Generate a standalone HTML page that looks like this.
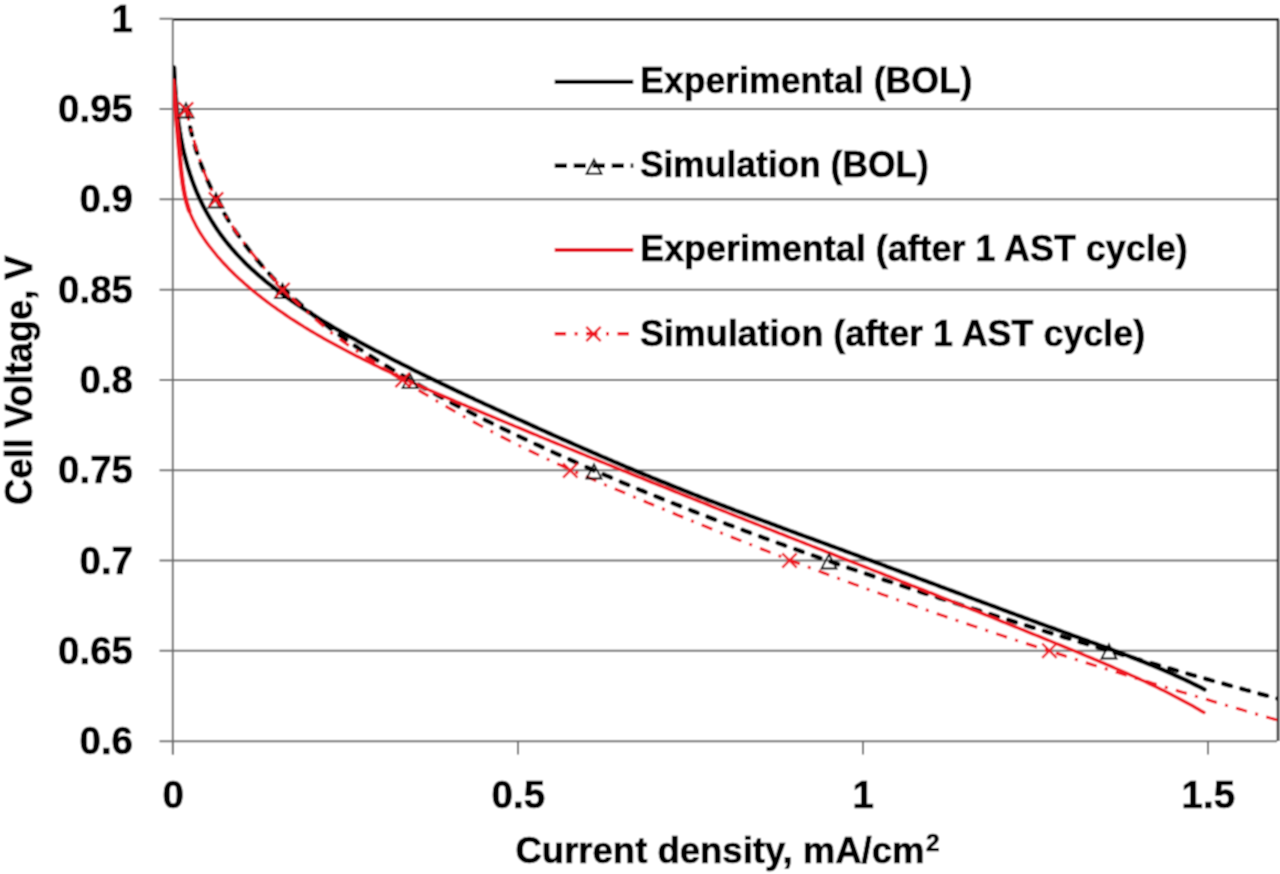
<!DOCTYPE html>
<html><head><meta charset="utf-8"><style>
html,body{margin:0;padding:0;background:#fff;width:1280px;height:874px;overflow:hidden}
svg{display:block}
.t{font-family:"Liberation Sans",sans-serif;font-weight:bold;font-size:37px;fill:#000;stroke:#000;stroke-width:0.7px}
.tl{font-size:38.5px}
</style></head><body>
<svg width="1280" height="874" viewBox="0 0 1280 874">
<defs><filter id="cv" x="0" y="0" width="1280" height="874" filterUnits="userSpaceOnUse"><feConvolveMatrix order="3" kernelMatrix="1 2 1 2 4 2 1 2 1" divisor="16" edgeMode="duplicate" preserveAlpha="true"/></filter><clipPath id="pa"><rect x="173" y="18" width="1104" height="724"/></clipPath></defs>
<g filter="url(#cv)">
<rect width="1280" height="874" fill="#fff"/>
<line x1="159.5" y1="109.05" x2="1277" y2="109.05" stroke="#6e6e6e" stroke-width="2"/>
<line x1="159.5" y1="199.35" x2="1277" y2="199.35" stroke="#6e6e6e" stroke-width="2"/>
<line x1="159.5" y1="289.65" x2="1277" y2="289.65" stroke="#6e6e6e" stroke-width="2"/>
<line x1="159.5" y1="379.95" x2="1277" y2="379.95" stroke="#6e6e6e" stroke-width="2"/>
<line x1="159.5" y1="470.25" x2="1277" y2="470.25" stroke="#6e6e6e" stroke-width="2"/>
<line x1="159.5" y1="560.55" x2="1277" y2="560.55" stroke="#6e6e6e" stroke-width="2"/>
<line x1="159.5" y1="650.85" x2="1277" y2="650.85" stroke="#6e6e6e" stroke-width="2"/>

<line x1="159.5" y1="18.75" x2="173" y2="18.75" stroke="#6e6e6e" stroke-width="2"/>
<line x1="173" y1="19.3" x2="1279" y2="19.3" stroke="#222" stroke-width="2.8"/>
<line x1="1278" y1="19.3" x2="1278" y2="741" stroke="#2a2a2a" stroke-width="2.6"/>
<line x1="159.5" y1="741.2" x2="1277" y2="741.2" stroke="#6e6e6e" stroke-width="2"/>
<line x1="172.8" y1="18.75" x2="172.8" y2="754.5" stroke="#6e6e6e" stroke-width="2"/>
<line x1="173.00" y1="741" x2="173.00" y2="754.5" stroke="#6e6e6e" stroke-width="2"/>
<line x1="518.00" y1="741" x2="518.00" y2="754.5" stroke="#6e6e6e" stroke-width="2"/>
<line x1="863.00" y1="741" x2="863.00" y2="754.5" stroke="#6e6e6e" stroke-width="2"/>
<line x1="1208.00" y1="741" x2="1208.00" y2="754.5" stroke="#6e6e6e" stroke-width="2"/>

<g clip-path="url(#pa)" fill="none">
<path d="M174.1,67.6 L174.2,70.8 L174.4,73.9 L174.5,77.0 L174.7,80.1 L174.8,83.3 L175.0,86.4 L175.2,89.6 L175.5,92.8 L175.7,95.9 L176.0,99.1 L176.2,102.3 L176.5,105.4 L176.8,108.6 L177.2,111.8 L177.5,115.0 L177.9,118.1 L178.3,121.3 L178.8,124.5 L179.2,127.7 L179.7,130.8 L180.3,134.0 L180.8,137.1 L181.4,140.3 L182.0,143.4 L182.6,146.5 L183.3,149.7 L184.0,152.8 L184.8,155.9 L185.6,159.0 L186.4,162.1 L187.2,165.1 L188.1,168.2 L189.1,171.2 L190.0,174.2 L191.1,177.3 L192.1,180.3 L193.2,183.2 L194.3,186.2 L195.5,189.1 L196.7,192.1 L198.0,195.0 L199.3,197.9 L200.6,200.7 L202.0,203.6 L203.4,206.4 L204.9,209.2 L206.4,212.0 L207.9,214.7 L209.5,217.4 L211.1,220.1 L212.8,222.8 L214.5,225.5 L216.2,228.1 L218.0,230.7 L219.8,233.3 L221.7,235.8 L223.6,238.3 L225.5,240.8 L227.5,243.3 L229.5,245.7 L231.5,248.2 L233.6,250.5 L235.7,252.9 L237.8,255.2 L240.0,257.5 L242.2,259.8 L244.4,262.1 L246.6,264.3 L248.9,266.5 L251.2,268.7 L253.6,270.8 L255.9,272.9 L258.3,275.0 L260.7,277.1 L263.1,279.1 L265.6,281.2 L268.1,283.2 L270.5,285.1 L273.1,287.1 L275.6,289.0 L278.1,291.0 L280.7,292.8 L283.3,294.7 L285.8,296.6 L288.4,298.4 L291.0,300.3 L293.7,302.1 L296.3,303.9 L298.9,305.6 L301.6,307.4 L304.2,309.2 L306.9,310.9 L309.6,312.6 L312.3,314.3 L314.9,316.0 L317.6,317.7 L320.3,319.4 L323.1,321.1 L325.8,322.7 L328.5,324.3 L331.3,326.0 L334.0,327.6 L336.7,329.2 L339.5,330.8 L342.3,332.4 L345.0,333.9 L347.8,335.5 L350.6,337.1 L353.4,338.6 L356.2,340.1 L358.9,341.7 L361.7,343.2 L364.5,344.7 L367.4,346.2 L370.2,347.7 L373.0,349.2 L375.8,350.7 L378.6,352.1 L381.4,353.6 L384.3,355.1 L387.1,356.5 L389.9,358.0 L392.7,359.4 L395.6,360.9 L398.4,362.3 L401.2,363.8 L404.1,365.2 L406.9,366.6 L409.8,368.0 L412.6,369.5 L415.4,370.9 L418.3,372.3 L421.1,373.7 L424.0,375.1 L426.8,376.5 L429.7,377.9 L432.5,379.2 L435.4,380.6 L438.3,382.0 L441.1,383.4 L444.0,384.8 L446.8,386.1 L449.7,387.5 L452.6,388.9 L455.4,390.2 L458.3,391.6 L461.2,392.9 L464.0,394.3 L466.9,395.6 L469.8,397.0 L472.7,398.3 L475.5,399.7 L478.4,401.0 L481.3,402.3 L484.2,403.7 L487.0,405.0 L489.9,406.3 L492.8,407.6 L495.7,409.0 L498.6,410.3 L501.5,411.6 L504.3,412.9 L507.2,414.3 L510.1,415.6 L513.0,416.9 L515.9,418.2 L518.8,419.5 L521.7,420.8 L524.6,422.1 L527.5,423.4 L530.4,424.7 L533.3,426.1 L536.1,427.4 L539.0,428.7 L541.9,430.0 L544.8,431.3 L547.7,432.6 L550.6,433.9 L553.5,435.2 L556.4,436.5 L559.3,437.8 L562.3,439.1 L565.2,440.3 L568.1,441.6 L571.0,442.9 L573.9,444.2 L576.8,445.5 L579.7,446.8 L582.6,448.1 L585.5,449.3 L588.4,450.6 L591.4,451.9 L594.3,453.2 L597.2,454.4 L600.1,455.7 L603.0,457.0 L605.9,458.2 L608.9,459.5 L611.8,460.7 L614.7,462.0 L617.6,463.2 L620.6,464.5 L623.5,465.7 L626.4,467.0 L629.3,468.2 L632.3,469.4 L635.2,470.7 L638.1,471.9 L641.1,473.1 L644.0,474.3 L647.0,475.5 L649.9,476.7 L652.8,478.0 L655.8,479.2 L658.7,480.4 L661.7,481.6 L664.6,482.7 L667.6,483.9 L670.5,485.1 L673.5,486.3 L676.4,487.5 L679.4,488.7 L682.3,489.8 L685.3,491.0 L688.2,492.2 L691.2,493.3 L694.1,494.5 L697.1,495.6 L700.1,496.8 L703.0,498.0 L706.0,499.1 L708.9,500.3 L711.9,501.4 L714.9,502.5 L717.8,503.7 L720.8,504.8 L723.8,505.9 L726.7,507.1 L729.7,508.2 L732.7,509.3 L735.6,510.5 L738.6,511.6 L741.6,512.7 L744.6,513.8 L747.5,514.9 L750.5,516.1 L753.5,517.2 L756.5,518.3 L759.4,519.4 L762.4,520.5 L765.4,521.6 L768.4,522.7 L771.3,523.8 L774.3,524.9 L777.3,526.1 L780.3,527.2 L783.2,528.3 L786.2,529.4 L789.2,530.5 L792.2,531.6 L795.2,532.7 L798.1,533.8 L801.1,534.9 L804.1,536.0 L807.1,537.1 L810.1,538.2 L813.0,539.2 L816.0,540.3 L819.0,541.4 L822.0,542.5 L825.0,543.6 L827.9,544.7 L830.9,545.8 L833.9,546.9 L836.9,548.0 L839.9,549.1 L842.9,550.2 L845.8,551.3 L848.8,552.4 L851.8,553.5 L854.8,554.6 L857.8,555.7 L860.7,556.8 L863.7,557.9 L866.7,559.0 L869.7,560.1 L872.6,561.2 L875.6,562.3 L878.6,563.4 L881.6,564.5 L884.6,565.6 L887.5,566.8 L890.5,567.9 L893.5,569.0 L896.5,570.1 L899.4,571.2 L902.4,572.3 L905.4,573.4 L908.4,574.5 L911.4,575.6 L914.3,576.7 L917.3,577.9 L920.3,579.0 L923.3,580.1 L926.2,581.2 L929.2,582.3 L932.2,583.4 L935.2,584.5 L938.1,585.6 L941.1,586.8 L944.1,587.9 L947.1,589.0 L950.0,590.1 L953.0,591.2 L956.0,592.3 L959.0,593.4 L962.0,594.5 L964.9,595.6 L967.9,596.8 L970.9,597.9 L973.9,599.0 L976.8,600.1 L979.8,601.2 L982.8,602.3 L985.8,603.4 L988.8,604.5 L991.7,605.6 L994.7,606.7 L997.7,607.8 L1000.7,609.0 L1003.6,610.1 L1006.6,611.2 L1009.6,612.3 L1012.6,613.4 L1015.6,614.5 L1018.5,615.6 L1021.5,616.7 L1024.5,617.8 L1027.5,618.9 L1030.5,620.0 L1033.5,621.1 L1036.4,622.2 L1039.4,623.3 L1042.4,624.4 L1045.4,625.5 L1048.4,626.6 L1051.4,627.6 L1054.3,628.7 L1057.3,629.8 L1060.3,630.9 L1063.3,632.0 L1066.3,633.1 L1069.3,634.2 L1072.3,635.3 L1075.2,636.3 L1078.2,637.4 L1081.2,638.5 L1084.2,639.6 L1087.2,640.7 L1090.2,641.8 L1093.2,642.8 L1096.2,643.9 L1099.1,645.0 L1102.1,646.1 L1105.1,647.2 L1108.1,648.3 L1111.1,649.4 L1114.0,650.5 L1117.0,651.6 L1120.0,652.7 L1123.0,653.9 L1125.9,655.0 L1128.9,656.1 L1131.9,657.3 L1134.8,658.4 L1137.8,659.6 L1140.7,660.8 L1143.7,661.9 L1146.6,663.1 L1149.6,664.3 L1152.5,665.5 L1155.4,666.7 L1158.4,668.0 L1161.3,669.2 L1164.2,670.4 L1167.1,671.7 L1170.0,673.0 L1172.9,674.3 L1175.8,675.6 L1178.7,676.9 L1181.6,678.2 L1184.5,679.5 L1187.4,680.9 L1190.3,682.3 L1193.1,683.7 L1196.0,685.1 L1198.8,686.5 L1201.7,687.9 L1204.5,689.4" stroke="#000" stroke-width="4.5" stroke-linejoin="round" stroke-linecap="round"/>
<path d="M186.6,109.0 L187.1,112.3 L187.7,115.5 L188.3,118.8 L189.0,122.0 L189.6,125.2 L190.4,128.4 L191.1,131.6 L191.9,134.8 L192.7,138.0 L193.6,141.1 L194.5,144.3 L195.4,147.4 L196.3,150.5 L197.3,153.6 L198.4,156.7 L199.4,159.8 L200.5,162.8 L201.6,165.9 L202.8,168.9 L204.0,171.9 L205.2,174.9 L206.5,177.9 L207.7,180.9 L209.1,183.9 L210.4,186.8 L211.8,189.7 L213.2,192.6 L214.6,195.5 L216.1,198.4 L217.6,201.3 L219.1,204.1 L220.6,207.0 L222.2,209.8 L223.8,212.6 L225.5,215.4 L227.1,218.1 L228.8,220.9 L230.5,223.6 L232.3,226.3 L234.0,229.0 L235.8,231.7 L237.7,234.4 L239.5,237.0 L241.4,239.6 L243.3,242.3 L245.2,244.9 L247.1,247.4 L249.1,250.0 L251.1,252.5 L253.1,255.1 L255.1,257.6 L257.2,260.1 L259.3,262.5 L261.4,265.0 L263.5,267.4 L265.6,269.8 L267.8,272.2 L270.0,274.6 L272.2,277.0 L274.4,279.3 L276.6,281.6 L278.9,283.9 L281.2,286.2 L283.5,288.5 L285.8,290.7 L288.1,293.0 L290.5,295.2 L292.9,297.4 L295.2,299.6 L297.7,301.7 L300.1,303.9 L302.5,306.0 L305.0,308.1 L307.4,310.2 L309.9,312.2 L312.4,314.3 L314.9,316.3 L317.4,318.4 L320.0,320.4 L322.5,322.4 L325.1,324.3 L327.7,326.3 L330.3,328.3 L332.9,330.2 L335.5,332.1 L338.1,334.0 L340.7,335.9 L343.4,337.8 L346.0,339.7 L348.7,341.5 L351.4,343.3 L354.1,345.2 L356.8,347.0 L359.5,348.8 L362.2,350.6 L364.9,352.4 L367.6,354.1 L370.3,355.9 L373.1,357.6 L375.8,359.4 L378.6,361.1 L381.3,362.8 L384.1,364.5 L386.9,366.2 L389.7,367.9 L392.4,369.6 L395.2,371.3 L398.0,372.9 L400.8,374.6 L403.6,376.2 L406.4,377.8 L409.2,379.5 L412.0,381.1 L414.9,382.7 L417.7,384.3 L420.5,385.9 L423.3,387.5 L426.2,389.0 L429.0,390.6 L431.9,392.2 L434.7,393.7 L437.5,395.3 L440.4,396.8 L443.3,398.4 L446.1,399.9 L449.0,401.4 L451.8,402.9 L454.7,404.4 L457.6,405.9 L460.5,407.4 L463.3,408.9 L466.2,410.4 L469.1,411.8 L472.0,413.3 L474.9,414.8 L477.8,416.2 L480.7,417.7 L483.6,419.1 L486.5,420.6 L489.4,422.0 L492.3,423.4 L495.2,424.9 L498.1,426.3 L501.0,427.7 L503.9,429.1 L506.9,430.5 L509.8,431.9 L512.7,433.3 L515.6,434.7 L518.5,436.1 L521.5,437.5 L524.4,438.9 L527.3,440.2 L530.3,441.6 L533.2,443.0 L536.1,444.4 L539.1,445.7 L542.0,447.1 L544.9,448.4 L547.9,449.8 L550.8,451.1 L553.8,452.5 L556.7,453.8 L559.7,455.1 L562.6,456.5 L565.6,457.8 L568.5,459.1 L571.5,460.4 L574.5,461.7 L577.4,463.1 L580.4,464.4 L583.3,465.7 L586.3,467.0 L589.3,468.3 L592.2,469.6 L595.2,470.9 L598.2,472.1 L601.1,473.4 L604.1,474.7 L607.1,476.0 L610.1,477.2 L613.1,478.5 L616.0,479.8 L619.0,481.0 L622.0,482.3 L625.0,483.5 L628.0,484.8 L631.0,486.0 L633.9,487.3 L636.9,488.5 L639.9,489.8 L642.9,491.0 L645.9,492.2 L648.9,493.5 L651.9,494.7 L654.9,495.9 L657.9,497.1 L660.9,498.3 L663.9,499.5 L666.9,500.7 L669.9,502.0 L672.9,503.2 L675.9,504.4 L678.9,505.5 L682.0,506.7 L685.0,507.9 L688.0,509.1 L691.0,510.3 L694.0,511.5 L697.0,512.7 L700.0,513.8 L703.1,515.0 L706.1,516.2 L709.1,517.3 L712.1,518.5 L715.2,519.6 L718.2,520.8 L721.2,522.0 L724.2,523.1 L727.3,524.3 L730.3,525.4 L733.3,526.5 L736.4,527.7 L739.4,528.8 L742.4,529.9 L745.5,531.1 L748.5,532.2 L751.5,533.3 L754.6,534.5 L757.6,535.6 L760.7,536.7 L763.7,537.8 L766.7,538.9 L769.8,540.0 L772.8,541.1 L775.9,542.2 L778.9,543.3 L782.0,544.4 L785.0,545.5 L788.1,546.6 L791.1,547.7 L794.2,548.8 L797.2,549.9 L800.3,551.0 L803.3,552.1 L806.4,553.2 L809.4,554.2 L812.5,555.3 L815.6,556.4 L818.6,557.5 L821.7,558.5 L824.7,559.6 L827.8,560.7 L830.9,561.7 L833.9,562.8 L837.0,563.8 L840.1,564.9 L843.1,566.0 L846.2,567.0 L849.2,568.1 L852.3,569.1 L855.4,570.1 L858.5,571.2 L861.5,572.2 L864.6,573.3 L867.7,574.3 L870.7,575.3 L873.8,576.4 L876.9,577.4 L880.0,578.4 L883.0,579.5 L886.1,580.5 L889.2,581.5 L892.3,582.5 L895.3,583.6 L898.4,584.6 L901.5,585.6 L904.6,586.6 L907.6,587.6 L910.7,588.6 L913.8,589.7 L916.9,590.7 L920.0,591.7 L923.0,592.7 L926.1,593.7 L929.2,594.7 L932.3,595.7 L935.4,596.7 L938.5,597.7 L941.5,598.7 L944.6,599.7 L947.7,600.7 L950.8,601.7 L953.9,602.6 L957.0,603.6 L960.1,604.6 L963.1,605.6 L966.2,606.6 L969.3,607.6 L972.4,608.6 L975.5,609.5 L978.6,610.5 L981.7,611.5 L984.8,612.5 L987.8,613.4 L990.9,614.4 L994.0,615.4 L997.1,616.4 L1000.2,617.3 L1003.3,618.3 L1006.4,619.3 L1009.5,620.2 L1012.6,621.2 L1015.7,622.2 L1018.8,623.1 L1021.9,624.1 L1024.9,625.1 L1028.0,626.0 L1031.1,627.0 L1034.2,627.9 L1037.3,628.9 L1040.4,629.9 L1043.5,630.8 L1046.6,631.8 L1049.7,632.7 L1052.8,633.7 L1055.9,634.6 L1059.0,635.6 L1062.1,636.5 L1065.2,637.5 L1068.3,638.4 L1071.4,639.3 L1074.5,640.3 L1077.6,641.2 L1080.7,642.2 L1083.8,643.1 L1086.9,644.0 L1090.0,645.0 L1093.1,645.9 L1096.2,646.9 L1099.3,647.8 L1102.4,648.7 L1105.5,649.6 L1108.6,650.6 L1111.7,651.5 L1114.8,652.4 L1117.9,653.3 L1121.0,654.3 L1124.1,655.2 L1127.2,656.1 L1130.3,657.0 L1133.4,657.9 L1136.5,658.9 L1139.6,659.8 L1142.7,660.7 L1145.8,661.6 L1148.9,662.5 L1152.0,663.4 L1155.1,664.3 L1158.2,665.2 L1161.4,666.1 L1164.5,667.0 L1167.6,667.9 L1170.7,668.8 L1173.8,669.7 L1176.9,670.6 L1180.0,671.5 L1183.1,672.4 L1186.2,673.3 L1189.4,674.2 L1192.5,675.1 L1195.6,676.0 L1198.7,676.8 L1201.8,677.7 L1204.9,678.6 L1208.1,679.5 L1211.2,680.4 L1214.3,681.2 L1217.4,682.1 L1220.5,683.0 L1223.7,683.8 L1226.8,684.7 L1229.9,685.6 L1233.0,686.4 L1236.2,687.3 L1239.3,688.2 L1242.4,689.0 L1245.5,689.9 L1248.7,690.7 L1251.8,691.6 L1254.9,692.5 L1258.0,693.3 L1261.2,694.2 L1264.3,695.0 L1267.4,695.8 L1270.6,696.7 L1273.7,697.5 L1276.8,698.4 L1280.0,699.2" stroke="#000" stroke-width="4.6" stroke-dasharray="8 10.7" stroke-linecap="round"/>
<path d="M173.3,80.9 L173.5,84.0 L173.8,87.2 L174.1,90.4 L174.4,93.6 L174.7,96.7 L174.9,99.9 L175.2,103.1 L175.5,106.3 L175.7,109.5 L176.0,112.6 L176.3,115.8 L176.5,119.0 L176.8,122.2 L177.0,125.4 L177.3,128.6 L177.6,131.8 L177.9,135.0 L178.1,138.2 L178.4,141.4 L178.7,144.6 L179.0,147.8 L179.3,151.0 L179.6,154.2 L179.9,157.4 L180.2,160.6 L180.5,163.8 L180.8,167.1 L181.1,170.3 L181.5,173.5 L181.9,176.7 L182.3,179.9 L182.7,183.1 L183.2,186.3 L183.7,189.4 L184.3,192.6 L184.9,195.7 L185.6,198.8 L186.4,201.9 L187.3,204.9 L188.2,207.9 L189.2,210.8 L190.4,213.8 L191.6,216.6 L192.9,219.5 L194.3,222.3 L195.7,225.1 L197.2,227.8 L198.8,230.6 L200.4,233.3 L202.1,235.9 L203.9,238.6 L205.7,241.2 L207.5,243.8 L209.4,246.3 L211.4,248.8 L213.4,251.3 L215.4,253.8 L217.4,256.3 L219.6,258.7 L221.7,261.1 L223.9,263.5 L226.1,265.8 L228.3,268.2 L230.6,270.5 L232.9,272.7 L235.2,275.0 L237.6,277.2 L240.0,279.4 L242.4,281.6 L244.8,283.8 L247.3,285.9 L249.7,288.0 L252.2,290.1 L254.7,292.1 L257.3,294.2 L259.8,296.2 L262.3,298.2 L264.9,300.1 L267.5,302.1 L270.0,304.0 L272.6,305.9 L275.2,307.7 L277.8,309.6 L280.5,311.4 L283.1,313.2 L285.7,315.0 L288.4,316.8 L291.0,318.6 L293.7,320.3 L296.4,322.0 L299.1,323.7 L301.8,325.4 L304.5,327.1 L307.2,328.7 L309.9,330.4 L312.7,332.0 L315.4,333.6 L318.1,335.2 L320.9,336.8 L323.7,338.4 L326.4,339.9 L329.2,341.5 L332.0,343.0 L334.8,344.5 L337.6,346.1 L340.4,347.6 L343.2,349.1 L346.0,350.5 L348.8,352.0 L351.7,353.5 L354.5,354.9 L357.3,356.4 L360.2,357.8 L363.0,359.3 L365.9,360.7 L368.7,362.1 L371.6,363.5 L374.5,364.9 L377.4,366.3 L380.2,367.7 L383.1,369.1 L386.0,370.4 L388.9,371.8 L391.8,373.2 L394.7,374.5 L397.6,375.8 L400.5,377.2 L403.4,378.5 L406.4,379.8 L409.3,381.2 L412.2,382.5 L415.1,383.8 L418.1,385.1 L421.0,386.4 L423.9,387.7 L426.9,389.0 L429.8,390.3 L432.8,391.5 L435.7,392.8 L438.6,394.1 L441.6,395.4 L444.5,396.6 L447.5,397.9 L450.4,399.1 L453.4,400.4 L456.4,401.7 L459.3,402.9 L462.3,404.2 L465.2,405.4 L468.2,406.7 L471.1,407.9 L474.1,409.1 L477.1,410.4 L480.0,411.6 L483.0,412.9 L485.9,414.1 L488.9,415.3 L491.9,416.6 L494.8,417.8 L497.8,419.1 L500.7,420.3 L503.7,421.5 L506.7,422.8 L509.6,424.0 L512.6,425.2 L515.5,426.5 L518.5,427.7 L521.5,428.9 L524.4,430.1 L527.4,431.4 L530.3,432.6 L533.3,433.8 L536.3,435.0 L539.2,436.3 L542.2,437.5 L545.1,438.7 L548.1,439.9 L551.1,441.2 L554.0,442.4 L557.0,443.6 L559.9,444.8 L562.9,446.0 L565.9,447.3 L568.8,448.5 L571.8,449.7 L574.7,450.9 L577.7,452.1 L580.7,453.3 L583.6,454.5 L586.6,455.8 L589.6,457.0 L592.5,458.2 L595.5,459.4 L598.4,460.6 L601.4,461.8 L604.4,463.0 L607.3,464.2 L610.3,465.4 L613.2,466.6 L616.2,467.8 L619.2,469.0 L622.1,470.3 L625.1,471.5 L628.1,472.7 L631.0,473.9 L634.0,475.1 L637.0,476.3 L639.9,477.5 L642.9,478.7 L645.8,479.9 L648.8,481.1 L651.8,482.3 L654.7,483.5 L657.7,484.7 L660.7,485.8 L663.6,487.0 L666.6,488.2 L669.6,489.4 L672.5,490.6 L675.5,491.8 L678.5,493.0 L681.4,494.2 L684.4,495.4 L687.4,496.6 L690.3,497.8 L693.3,499.0 L696.3,500.2 L699.2,501.3 L702.2,502.5 L705.2,503.7 L708.1,504.9 L711.1,506.1 L714.1,507.3 L717.1,508.5 L720.0,509.7 L723.0,510.8 L726.0,512.0 L728.9,513.2 L731.9,514.4 L734.9,515.6 L737.8,516.8 L740.8,517.9 L743.8,519.1 L746.8,520.3 L749.7,521.5 L752.7,522.7 L755.7,523.8 L758.7,525.0 L761.6,526.2 L764.6,527.4 L767.6,528.6 L770.6,529.7 L773.5,530.9 L776.5,532.1 L779.5,533.3 L782.5,534.4 L785.4,535.6 L788.4,536.8 L791.4,538.0 L794.4,539.2 L797.4,540.3 L800.3,541.5 L803.3,542.7 L806.3,543.9 L809.3,545.0 L812.2,546.2 L815.2,547.4 L818.2,548.6 L821.2,549.7 L824.2,550.9 L827.1,552.1 L830.1,553.2 L833.1,554.4 L836.1,555.6 L839.1,556.8 L842.0,557.9 L845.0,559.1 L848.0,560.3 L851.0,561.5 L854.0,562.6 L856.9,563.8 L859.9,565.0 L862.9,566.2 L865.9,567.3 L868.9,568.5 L871.8,569.7 L874.8,570.9 L877.8,572.0 L880.8,573.2 L883.7,574.4 L886.7,575.6 L889.7,576.7 L892.7,577.9 L895.7,579.1 L898.6,580.3 L901.6,581.5 L904.6,582.6 L907.6,583.8 L910.6,585.0 L913.5,586.2 L916.5,587.3 L919.5,588.5 L922.5,589.7 L925.5,590.9 L928.4,592.1 L931.4,593.2 L934.4,594.4 L937.4,595.6 L940.3,596.8 L943.3,598.0 L946.3,599.2 L949.3,600.3 L952.2,601.5 L955.2,602.7 L958.2,603.9 L961.2,605.1 L964.2,606.3 L967.1,607.5 L970.1,608.6 L973.1,609.8 L976.0,611.0 L979.0,612.2 L982.0,613.4 L985.0,614.6 L987.9,615.8 L990.9,617.0 L993.9,618.2 L996.9,619.4 L999.8,620.6 L1002.8,621.8 L1005.8,623.0 L1008.7,624.2 L1011.7,625.4 L1014.7,626.6 L1017.6,627.8 L1020.6,629.0 L1023.6,630.2 L1026.5,631.4 L1029.5,632.6 L1032.5,633.8 L1035.4,635.0 L1038.4,636.2 L1041.4,637.4 L1044.3,638.6 L1047.3,639.8 L1050.3,641.0 L1053.2,642.2 L1056.2,643.5 L1059.2,644.7 L1062.1,645.9 L1065.1,647.1 L1068.0,648.3 L1071.0,649.5 L1074.0,650.8 L1076.9,652.0 L1079.9,653.2 L1082.8,654.4 L1085.8,655.7 L1088.7,656.9 L1091.7,658.1 L1094.6,659.4 L1097.6,660.6 L1100.5,661.9 L1103.5,663.1 L1106.4,664.4 L1109.4,665.6 L1112.3,666.9 L1115.2,668.2 L1118.2,669.5 L1121.1,670.7 L1124.0,672.0 L1126.9,673.3 L1129.9,674.7 L1132.8,676.0 L1135.7,677.3 L1138.6,678.6 L1141.5,680.0 L1144.4,681.3 L1147.3,682.7 L1150.2,684.1 L1153.1,685.4 L1155.9,686.8 L1158.8,688.2 L1161.7,689.7 L1164.5,691.1 L1167.4,692.5 L1170.3,694.0 L1173.1,695.5 L1175.9,696.9 L1178.8,698.4 L1181.6,699.9 L1184.4,701.5 L1187.2,703.0 L1190.1,704.5 L1192.9,706.1 L1195.7,707.7 L1198.4,709.3 L1201.2,710.9 L1204.0,712.5" stroke="#ee1820" stroke-width="3.4" stroke-linejoin="round" stroke-linecap="round"/>
<path d="M173.3,80.9 L173.5,84.0 L173.8,87.2 L174.1,90.4 L174.4,93.6 L174.7,96.7 L174.9,99.9 L175.2,103.1 L175.5,106.3 L175.7,109.5 L176.0,112.6 L176.3,115.8 L176.5,119.0 L176.8,122.2 L177.0,125.4 L177.3,128.6 L177.6,131.8 L177.9,135.0 L178.1,138.2 L178.4,141.4 L178.7,144.6 L179.0,147.8 L179.3,151.0 L179.6,154.2 L179.9,157.4 L180.2,160.6 L180.5,163.8 L180.8,167.1 L181.1,170.3 L181.5,173.5 L181.9,176.7 L182.3,179.9 L182.7,183.1 L183.2,186.3 L183.7,189.4 L184.3,192.6 L184.9,195.7 L185.6,198.8 L186.4,201.9 L187.3,204.9 L188.2,207.9 L189.2,210.8" stroke="#ee1820" stroke-width="4.6" stroke-linejoin="round" stroke-linecap="round"/>
<path d="M186.1,109.5 L186.9,112.6 L187.6,115.8 L188.4,119.0 L189.2,122.1 L190.0,125.3 L190.8,128.5 L191.6,131.6 L192.5,134.8 L193.3,138.0 L194.2,141.1 L195.1,144.3 L196.0,147.4 L196.9,150.5 L197.9,153.6 L198.9,156.8 L199.9,159.9 L201.0,163.0 L202.0,166.0 L203.1,169.1 L204.3,172.2 L205.4,175.2 L206.6,178.2 L207.9,181.2 L209.2,184.2 L210.5,187.2 L211.8,190.2 L213.2,193.1 L214.7,196.0 L216.2,198.9 L217.7,201.8 L219.2,204.6 L220.8,207.5 L222.4,210.3 L224.1,213.1 L225.7,215.9 L227.5,218.7 L229.2,221.4 L231.0,224.2 L232.8,226.9 L234.6,229.6 L236.5,232.3 L238.3,235.0 L240.2,237.6 L242.2,240.3 L244.1,242.9 L246.1,245.5 L248.1,248.1 L250.1,250.7 L252.1,253.3 L254.2,255.8 L256.2,258.4 L258.3,260.9 L260.4,263.4 L262.5,265.9 L264.6,268.4 L266.7,270.9 L268.9,273.3 L271.0,275.8 L273.2,278.2 L275.4,280.6 L277.6,283.0 L279.8,285.4 L282.0,287.7 L284.3,290.1 L286.5,292.4 L288.8,294.7 L291.1,297.0 L293.5,299.3 L295.8,301.5 L298.2,303.8 L300.6,306.0 L303.0,308.2 L305.4,310.4 L307.8,312.6 L310.2,314.8 L312.7,316.9 L315.1,319.1 L317.6,321.2 L320.1,323.3 L322.6,325.4 L325.1,327.5 L327.6,329.6 L330.1,331.7 L332.7,333.7 L335.3,335.7 L337.9,337.7 L340.5,339.6 L343.1,341.5 L345.7,343.4 L348.4,345.3 L351.1,347.2 L353.7,349.0 L356.4,350.8 L359.1,352.6 L361.8,354.4 L364.6,356.2 L367.3,358.0 L370.0,359.7 L372.8,361.5 L375.5,363.3 L378.2,365.0 L381.0,366.8 L383.7,368.5 L386.5,370.3 L389.3,372.0 L392.0,373.8 L394.8,375.5 L397.5,377.2 L400.3,379.0 L403.1,380.7 L405.9,382.4 L408.6,384.1 L411.4,385.8 L414.2,387.5 L417.0,389.2 L419.8,390.9 L422.6,392.6 L425.4,394.3 L428.2,395.9 L431.0,397.6 L433.8,399.3 L436.6,400.9 L439.5,402.6 L442.3,404.2 L445.1,405.8 L447.9,407.5 L450.8,409.1 L453.6,410.7 L456.4,412.3 L459.3,413.9 L462.1,415.5 L465.0,417.1 L467.8,418.7 L470.7,420.3 L473.6,421.9 L476.4,423.4 L479.3,425.0 L482.2,426.5 L485.1,428.1 L487.9,429.6 L490.8,431.1 L493.7,432.7 L496.6,434.2 L499.5,435.7 L502.4,437.2 L505.3,438.7 L508.2,440.1 L511.1,441.6 L514.0,443.1 L517.0,444.5 L519.9,446.0 L522.8,447.4 L525.7,448.8 L528.7,450.3 L531.6,451.7 L534.6,453.1 L537.5,454.5 L540.5,455.9 L543.4,457.3 L546.4,458.6 L549.3,460.0 L552.3,461.4 L555.2,462.7 L558.2,464.1 L561.2,465.4 L564.1,466.8 L567.1,468.1 L570.1,469.4 L573.1,470.8 L576.0,472.1 L579.0,473.4 L582.0,474.7 L585.0,476.0 L588.0,477.3 L591.0,478.6 L594.0,479.9 L597.0,481.2 L600.0,482.5 L602.9,483.8 L605.9,485.1 L608.9,486.3 L611.9,487.6 L615.0,488.9 L618.0,490.2 L621.0,491.4 L624.0,492.7 L627.0,494.0 L630.0,495.2 L633.0,496.5 L636.0,497.7 L639.0,499.0 L642.0,500.3 L645.0,501.5 L648.0,502.8 L651.0,504.0 L654.1,505.3 L657.1,506.5 L660.1,507.8 L663.1,509.0 L666.1,510.3 L669.1,511.5 L672.1,512.8 L675.2,514.0 L678.2,515.3 L681.2,516.5 L684.2,517.8 L687.2,519.0 L690.2,520.2 L693.3,521.5 L696.3,522.7 L699.3,524.0 L702.3,525.2 L705.4,526.4 L708.4,527.7 L711.4,528.9 L714.4,530.1 L717.4,531.4 L720.5,532.6 L723.5,533.8 L726.5,535.0 L729.6,536.2 L732.6,537.5 L735.6,538.7 L738.6,539.9 L741.7,541.1 L744.7,542.3 L747.7,543.5 L750.8,544.7 L753.8,545.9 L756.8,547.1 L759.9,548.3 L762.9,549.5 L765.9,550.7 L769.0,551.9 L772.0,553.1 L775.1,554.3 L778.1,555.5 L781.1,556.7 L784.2,557.9 L787.2,559.0 L790.3,560.2 L793.3,561.4 L796.4,562.6 L799.4,563.7 L802.5,564.9 L805.5,566.1 L808.6,567.2 L811.6,568.4 L814.7,569.5 L817.7,570.7 L820.8,571.8 L823.8,573.0 L826.9,574.1 L829.9,575.3 L833.0,576.4 L836.0,577.5 L839.1,578.7 L842.2,579.8 L845.2,580.9 L848.3,582.1 L851.3,583.2 L854.4,584.3 L857.5,585.4 L860.5,586.6 L863.6,587.7 L866.7,588.8 L869.7,589.9 L872.8,591.0 L875.9,592.1 L878.9,593.2 L882.0,594.3 L885.1,595.4 L888.2,596.5 L891.2,597.6 L894.3,598.7 L897.4,599.8 L900.5,600.9 L903.5,602.0 L906.6,603.0 L909.7,604.1 L912.8,605.2 L915.8,606.3 L918.9,607.4 L922.0,608.4 L925.1,609.5 L928.2,610.6 L931.2,611.6 L934.3,612.7 L937.4,613.8 L940.5,614.8 L943.6,615.9 L946.7,617.0 L949.8,618.0 L952.8,619.1 L955.9,620.1 L959.0,621.2 L962.1,622.2 L965.2,623.3 L968.3,624.3 L971.4,625.3 L974.5,626.4 L977.6,627.4 L980.7,628.5 L983.7,629.5 L986.8,630.5 L989.9,631.6 L993.0,632.6 L996.1,633.6 L999.2,634.6 L1002.3,635.7 L1005.4,636.7 L1008.5,637.7 L1011.6,638.7 L1014.7,639.7 L1017.8,640.8 L1020.9,641.8 L1024.0,642.8 L1027.1,643.8 L1030.2,644.8 L1033.3,645.8 L1036.4,646.8 L1039.5,647.8 L1042.6,648.8 L1045.7,649.8 L1048.9,650.8 L1052.0,651.8 L1055.1,652.8 L1058.2,653.8 L1061.3,654.8 L1064.4,655.8 L1067.5,656.8 L1070.6,657.8 L1073.7,658.8 L1076.8,659.7 L1079.9,660.7 L1083.1,661.7 L1086.2,662.7 L1089.3,663.7 L1092.4,664.7 L1095.5,665.6 L1098.6,666.6 L1101.7,667.6 L1104.8,668.5 L1108.0,669.5 L1111.1,670.5 L1114.2,671.5 L1117.3,672.4 L1120.4,673.4 L1123.5,674.4 L1126.7,675.3 L1129.8,676.3 L1132.9,677.2 L1136.0,678.2 L1139.1,679.2 L1142.3,680.1 L1145.4,681.1 L1148.5,682.0 L1151.6,683.0 L1154.7,683.9 L1157.9,684.9 L1161.0,685.8 L1164.1,686.8 L1167.2,687.7 L1170.4,688.6 L1173.5,689.6 L1176.6,690.5 L1179.7,691.5 L1182.8,692.4 L1186.0,693.3 L1189.1,694.3 L1192.2,695.2 L1195.4,696.1 L1198.5,697.1 L1201.6,698.0 L1204.7,698.9 L1207.9,699.8 L1211.0,700.8 L1214.1,701.7 L1217.3,702.6 L1220.4,703.5 L1223.5,704.5 L1226.6,705.4 L1229.8,706.3 L1232.9,707.2 L1236.0,708.1 L1239.2,709.0 L1242.3,709.9 L1245.4,710.9 L1248.6,711.8 L1251.7,712.7 L1254.8,713.6 L1258.0,714.5 L1261.1,715.4 L1264.2,716.3 L1267.4,717.2 L1270.5,718.1 L1273.6,719.0 L1276.8,719.9 L1279.9,720.8" stroke="#ee1820" stroke-width="3" stroke-dasharray="11.4 8.5 3 8.5"/>
<path d="M186.0,103.4 L193.4,117.4 L178.6,117.4 Z" fill="none" stroke="#000" stroke-width="2" stroke-linejoin="miter"/><path d="M216.0,193.4 L223.4,207.4 L208.6,207.4 Z" fill="none" stroke="#000" stroke-width="2" stroke-linejoin="miter"/><path d="M282.5,283.9 L289.9,297.9 L275.1,297.9 Z" fill="none" stroke="#000" stroke-width="2" stroke-linejoin="miter"/><path d="M410.0,373.9 L417.4,387.9 L402.6,387.9 Z" fill="none" stroke="#000" stroke-width="2" stroke-linejoin="miter"/><path d="M594.0,464.4 L601.4,478.4 L586.6,478.4 Z" fill="none" stroke="#000" stroke-width="2" stroke-linejoin="miter"/><path d="M829.0,554.4 L836.4,568.4 L821.6,568.4 Z" fill="none" stroke="#000" stroke-width="2" stroke-linejoin="miter"/><path d="M1109.0,644.4 L1116.4,658.4 L1101.6,658.4 Z" fill="none" stroke="#000" stroke-width="2" stroke-linejoin="miter"/><path d="M178.8,102.3 L193.2,116.7 M193.2,102.3 L178.8,116.7" stroke="#ee1820" stroke-width="2.4" fill="none"/><path d="M208.8,192.3 L223.2,206.7 M223.2,192.3 L208.8,206.7" stroke="#ee1820" stroke-width="2.4" fill="none"/><path d="M275.3,282.8 L289.7,297.2 M289.7,282.8 L275.3,297.2" stroke="#ee1820" stroke-width="2.4" fill="none"/><path d="M395.4,372.8 L409.8,387.2 M409.8,372.8 L395.4,387.2" stroke="#ee1820" stroke-width="2.4" fill="none"/><path d="M563.1,463.3 L577.5,477.7 M577.5,463.3 L563.1,477.7" stroke="#ee1820" stroke-width="2.4" fill="none"/><path d="M782.3,553.3 L796.7,567.7 M796.7,553.3 L782.3,567.7" stroke="#ee1820" stroke-width="2.4" fill="none"/><path d="M1042.2,643.5 L1056.6,657.9 M1056.6,643.5 L1042.2,657.9" stroke="#ee1820" stroke-width="2.4" fill="none"/>
</g>
<text x="133" y="31.6" text-anchor="end" class="t tl">1</text>
<text x="133" y="122.0" text-anchor="end" class="t tl">0.95</text>
<text x="133" y="212.2" text-anchor="end" class="t tl">0.9</text>
<text x="133" y="302.6" text-anchor="end" class="t tl">0.85</text>
<text x="133" y="392.8" text-anchor="end" class="t tl">0.8</text>
<text x="133" y="483.1" text-anchor="end" class="t tl">0.75</text>
<text x="133" y="573.5" text-anchor="end" class="t tl">0.7</text>
<text x="133" y="663.8" text-anchor="end" class="t tl">0.65</text>
<text x="133" y="754.1" text-anchor="end" class="t tl">0.6</text>

<text x="173.3" y="807.6" text-anchor="middle" class="t tl">0</text>
<text x="518.3" y="807.6" text-anchor="middle" class="t tl">0.5</text>
<text x="863.3" y="807.6" text-anchor="middle" class="t tl">1</text>
<text x="1208.3" y="807.6" text-anchor="middle" class="t tl">1.5</text>

<text x="515.5" y="863" class="t" textLength="409" lengthAdjust="spacingAndGlyphs">Current density, mA/cm</text>
<text x="926" y="850.5" class="t" style="font-size:24.5px">2</text>
<text transform="translate(31.8,380.2) rotate(-90)" text-anchor="middle" class="t" style="font-size:38.5px" textLength="249.5" lengthAdjust="spacingAndGlyphs">Cell Voltage, V</text>
<!-- legend -->
<line x1="554.7" y1="81.9" x2="633.3" y2="81.9" stroke="#000" stroke-width="4.2"/>
<text x="640.2" y="93.3" class="t" textLength="332.3" lengthAdjust="spacingAndGlyphs">Experimental (BOL)</text>
<line x1="554.7" y1="165.8" x2="633.3" y2="165.8" stroke="#000" stroke-width="4.5" stroke-dasharray="12.2 6.8"/>
<path d="M594.0,159.7 L601.4,173.7 L586.6,173.7 Z" fill="none" stroke="#000" stroke-width="2" stroke-linejoin="miter"/>
<text x="639.9" y="177.3" class="t" textLength="289" lengthAdjust="spacingAndGlyphs">Simulation (BOL)</text>
<line x1="554.7" y1="250" x2="633.3" y2="250" stroke="#e41820" stroke-width="3.8"/>
<text x="640.2" y="261.3" class="t" textLength="547.5" lengthAdjust="spacingAndGlyphs">Experimental (after 1 AST cycle)</text>
<line x1="554.7" y1="333.8" x2="633.3" y2="333.8" stroke="#ee1820" stroke-width="3.4" stroke-dasharray="11.4 8.5 3 8.5"/>
<path d="M586.3,326.8 L600.7,341.2 M600.7,326.8 L586.3,341.2" stroke="#ee1820" stroke-width="2.4" fill="none"/>
<text x="639.9" y="345.8" class="t" textLength="505.3" lengthAdjust="spacingAndGlyphs">Simulation (after 1 AST cycle)</text>
</g>
</svg>
</body></html>
